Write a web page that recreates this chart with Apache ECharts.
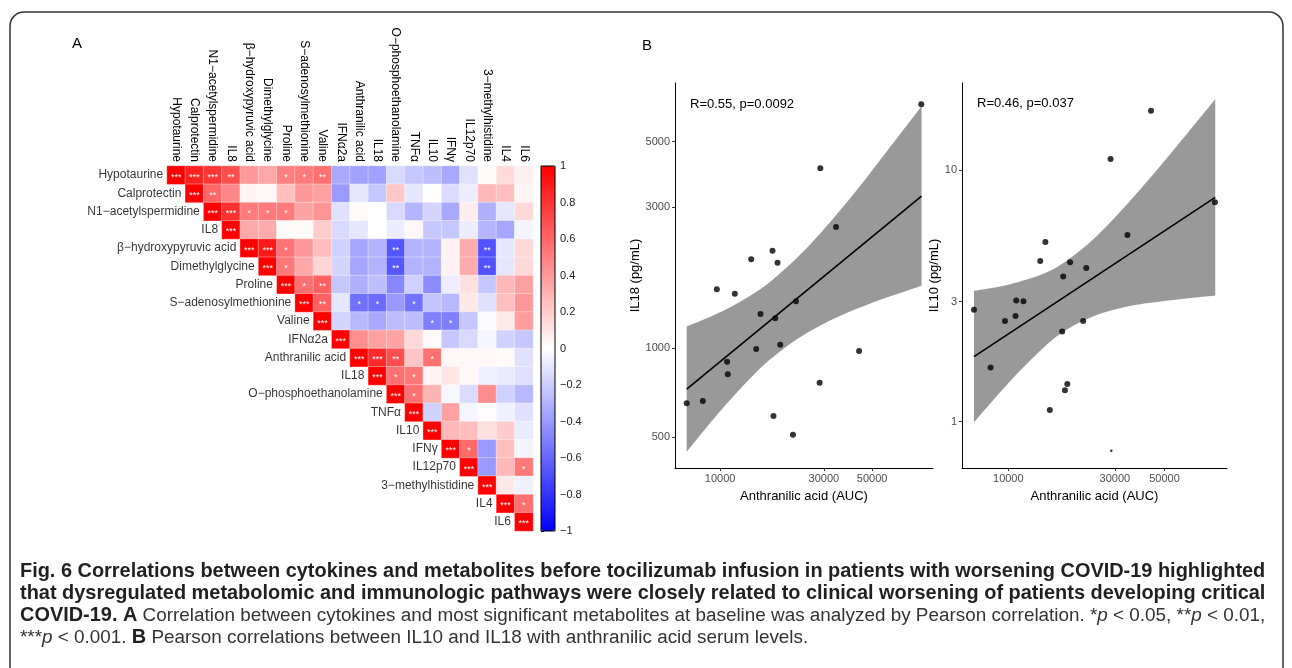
<!DOCTYPE html>
<html><head><meta charset="utf-8">
<script src="https://cdn.jsdelivr.net/npm/echarts@6/dist/echarts.min.js"></script>
<style>html,body{margin:0;padding:0;background:#fff}#c{width:1292px;height:668px}</style>
</head><body><div id="c"></div>
<script>
// ---------------- DATA ----------------
const labels = ['Hypotaurine','Calprotectin','N1−acetylspermidine','IL8','β−hydroxypyruvic acid','Dimethylglycine','Proline','S−adenosylmethionine','Valine','IFNα2a','Anthranilic acid','IL18','O−phosphoethanolamine','TNFα','IL10','IFNγ','IL12p70','3−methylhistidine','IL4','IL6'];

// upper triangle, each row starts at its diagonal cell
const corrRows = [
  [1, 0.87, 0.79, 0.7, 0.4, 0.35, 0.5, 0.52, 0.56, -0.34, -0.37, -0.37, -0.15, -0.22, -0.25, -0.34, -0.12, 0.02, 0.14, 0.06],
  [1, 0.6, 0.47, 0.04, 0.03, 0.25, 0.4, 0.37, -0.4, -0.1, -0.22, 0.22, -0.1, 0, -0.14, -0.07, 0.28, 0.25, 0.04],
  [1, 0.81, 0.52, 0.52, 0.52, 0.36, 0.42, -0.12, 0.02, 0, -0.15, -0.29, -0.17, -0.34, 0.07, -0.31, -0.1, 0.15],
  [1, 0.34, 0.33, 0.02, 0.02, 0.2, -0.15, -0.1, 0, -0.07, 0.03, -0.22, -0.22, -0.07, -0.29, -0.35, -0.04],
  [1, 0.9, 0.55, 0.4, 0.26, -0.18, -0.35, -0.3, -0.66, -0.3, -0.3, 0.05, 0.33, -0.68, -0.1, 0.15],
  [1, 0.53, 0.34, 0.17, -0.17, -0.35, -0.3, -0.66, -0.3, -0.3, 0.05, 0.33, -0.68, -0.1, 0.15],
  [1, 0.56, 0.62, -0.22, -0.31, -0.25, -0.47, -0.18, -0.45, -0.07, 0.12, -0.22, 0.28, 0.37],
  [1, 0.62, -0.1, -0.56, -0.58, -0.4, -0.55, -0.23, -0.28, 0.09, -0.12, 0.25, 0.4],
  [1, -0.17, -0.28, -0.34, -0.26, -0.26, -0.5, -0.5, -0.22, -0.02, 0.09, 0.39],
  [1, 0.44, 0.37, 0.36, 0.15, 0.02, -0.22, -0.15, -0.04, -0.18, -0.22],
  [1, 0.84, 0.69, 0.23, 0.56, 0.03, 0.03, 0.03, 0.02, -0.12],
  [1, 0.56, 0.53, 0.04, 0.1, 0.03, -0.06, -0.08, -0.12],
  [1, 0.56, 0.3, -0.03, -0.14, 0.45, -0.18, -0.28],
  [1, -0.18, 0.37, -0.04, 0.01, -0.06, -0.12],
  [1, 0.28, 0.26, 0.12, 0.2, -0.08],
  [1, 0.58, -0.4, 0.25, -0.04],
  [1, -0.4, 0.28, 0.53],
  [1, 0.09, -0.06],
  [1, 0.56],
  [1]
];

// significant cells [row, col, stars]
const sigCells = [
  [0,0,'***'],[0,1,'***'],[0,2,'***'],[0,3,'**'],[0,6,'*'],[0,7,'*'],[0,8,'**'],
  [1,1,'***'],[1,2,'**'],
  [2,2,'***'],[2,3,'***'],[2,4,'*'],[2,5,'*'],[2,6,'*'],
  [3,3,'***'],
  [4,4,'***'],[4,5,'***'],[4,6,'*'],[4,12,'**'],[4,17,'**'],
  [5,5,'***'],[5,6,'*'],[5,12,'**'],[5,17,'**'],
  [6,6,'***'],[6,7,'*'],[6,8,'**'],
  [7,7,'***'],[7,8,'**'],[7,10,'*'],[7,11,'*'],[7,13,'*'],
  [8,8,'***'],[8,14,'*'],[8,15,'*'],
  [9,9,'***'],
  [10,10,'***'],[10,11,'***'],[10,12,'**'],[10,14,'*'],
  [11,11,'***'],[11,12,'*'],[11,13,'*'],
  [12,12,'***'],[12,13,'*'],
  [13,13,'***'],[14,14,'***'],
  [15,15,'***'],[15,16,'*'],
  [16,16,'***'],[16,19,'*'],
  [17,17,'***'],
  [18,18,'***'],[18,19,'*'],
  [19,19,'***']
];

const colorbarTicks = [1, 0.8, 0.6, 0.4, 0.2, 0, -0.2, -0.4, -0.6, -0.8, -1];

// Panel B
const anthranilic = [7020, 8330, 9660, 10770, 10850, 11690, 13900, 14650, 15340, 17420, 17600, 17930, 18370, 18900, 21630, 22330, 28680, 28900, 34130, 43560, 84140];
const il18 = [652, 663, 1584, 901, 817, 1530, 2000, 995, 1306, 2138, 590, 1263, 1948, 1028, 510, 1442, 765, 4064, 2573, 979, 6690];
const il10 = [2.78, 1.64, 2.51, 2.63, 3.03, 3.01, 4.35, 5.18, 1.11, 2.28, 3.77, 1.33, 1.41, 4.30, 2.51, 4.08, 11.06, 0.765, 5.52, 17.2, 7.44];

const bandX = [7022, 10000, 14240, 17990, 24210, 34480, 49110, 84390];
const il18Lower = [446, 612, 812, 949, 1109, 1273, 1419, 1628];
const il18Upper = [1184, 1323, 1530, 1739, 2128, 2847, 3928, 6585];
const il10Lower = [0.993, 1.42, 1.95, 2.30, 2.63, 2.87, 3.01, 3.17];
const il10Upper = [3.31, 3.50, 3.86, 4.32, 5.34, 7.41, 10.66, 19.15];
const fitX = [7022, 84390];
const il18Fit = [727, 3274];
const il10Fit = [1.81, 7.79];

const xTicks = [10000, 30000, 50000];
const il18Ticks = [500, 1000, 3000, 5000];
const il10Ticks = [1, 3, 10];
const xRange = [6204, 95260];
const il18Range = [393.6, 7898];
const il10Range = [0.653, 22.2];
const stats = ['R=0.55, p=0.0092', 'R=0.46, p=0.037'];

// ---------------- BUILD ----------------
const lg = Math.log10;
const fam = '"Liberation Sans", Arial, Helvetica, sans-serif';
const heatData = [];
corrRows.forEach((row, i) => row.forEach((v, k) => heatData.push([i + k, i, v])));
const sigMap = {};
sigCells.forEach(([r, c, s]) => { sigMap[r + '_' + c] = s; });
const tinyPointIndex = 17;

function tickFmt(ticks) {
  return v => { const t = ticks.find(t => Math.abs(lg(t) - v) < 1e-6); return t === undefined ? '' : String(t); };
}
function xAxisFor(grid) {
  return {
    gridIndex: grid, type: 'value', min: lg(xRange[0]), max: lg(xRange[1]),
    axisLine: {show: true, onZero: false, lineStyle: {color: '#000', width: 1}},
    axisTick: {show: true, length: 3, customValues: xTicks.map(lg), lineStyle: {color: '#333'}},
    axisLabel: {customValues: xTicks.map(lg), formatter: tickFmt(xTicks), color: '#4d4d4d', fontSize: 11, margin: 5, fontFamily: fam},
    splitLine: {show: false},
    name: 'Anthranilic acid (AUC)', nameLocation: 'middle', nameGap: 22,
    nameTextStyle: {fontSize: 13, color: '#000', fontFamily: fam}
  };
}
function yAxisFor(grid, range, ticks, name, gap) {
  return {
    gridIndex: grid, type: 'value', min: lg(range[0]), max: lg(range[1]),
    axisLine: {show: true, onZero: false, lineStyle: {color: '#000', width: 1}},
    axisTick: {show: true, length: 3, customValues: ticks.map(lg), lineStyle: {color: '#333'}},
    axisLabel: {customValues: ticks.map(lg), formatter: tickFmt(ticks), color: '#4d4d4d', fontSize: 11, margin: 5, fontFamily: fam},
    splitLine: {show: false},
    name: name, nameLocation: 'middle', nameGap: gap,
    nameTextStyle: {fontSize: 13, color: '#000', fontFamily: fam}
  };
}
// smooth path through pixel points (Catmull-Rom -> cubic Bezier)
function curveTo(p) {
  let s = '';
  for (let i = 0; i < p.length - 1; i++) {
    const p0 = p[Math.max(0, i - 1)], p1 = p[i], p2 = p[i + 1], p3 = p[Math.min(p.length - 1, i + 2)];
    const c1 = [p1[0] + (p2[0] - p0[0]) / 6, p1[1] + (p2[1] - p0[1]) / 6];
    const c2 = [p2[0] - (p3[0] - p1[0]) / 6, p2[1] - (p3[1] - p1[1]) / 6];
    s += ' C' + c1.join(',') + ' ' + c2.join(',') + ' ' + p2.join(',');
  }
  return s;
}
function bandSeries(axisIdx, lower, upper) {
  return {type: 'custom', xAxisIndex: axisIdx, yAxisIndex: axisIdx, z: 1, silent: true, data: [0],
    renderItem: (params, api) => {
      const up = bandX.map((x, i) => api.coord([lg(x), lg(upper[i])]));
      const lo = bandX.map((x, i) => api.coord([lg(x), lg(lower[i])])).reverse();
      const d = 'M' + up[0].join(',') + curveTo(up) + ' L' + lo[0].join(',') + curveTo(lo) + ' Z';
      return {type: 'path', shape: {pathData: d}, style: {fill: '#999999'}};
    }};
}
function fitSeries(axisIdx, ys) {
  return {type: 'line', xAxisIndex: axisIdx, yAxisIndex: axisIdx, symbol: 'none', z: 3,
    data: fitX.map((x, i) => [lg(x), lg(ys[i])]), lineStyle: {color: '#000', width: 1.6}};
}
function pointSeries(axisIdx, ys, tiny) {
  return {type: 'scatter', xAxisIndex: axisIdx, yAxisIndex: axisIdx, z: 4, symbolSize: 6,
    itemStyle: {color: '#000'},
    data: anthranilic.map((x, i) => (tiny && i === tinyPointIndex) ? {value: [lg(x), lg(ys[i])], symbolSize: 2.5} : [lg(x), lg(ys[i])])};
}

// caption
const capLines = [
  'Fig. 6 Correlations between cytokines and metabolites before tocilizumab infusion in patients with worsening COVID-19 highlighted',
  'that dysregulated metabolomic and immunologic pathways were closely related to clinical worsening of patients developing critical'
];
const cap3Bold = 'COVID-19. A';
const cap3Normal = ' Correlation between cytokines and most significant metabolites at baseline was analyzed by Pearson correlation. *p < 0.05, **p < 0.01,';
const capFam = '"Liberation Sans Narrow", "Liberation Sans", Arial, sans-serif';
const mctx = document.createElement('canvas').getContext('2d');
function mw(text, style) { mctx.font = style + ' 100px ' + capFam; return mctx.measureText(text).width / 100; }
const capW = 1246;
const boldSize = Math.min(20, capW / mw(capLines[0], 'bold'));
const normSize = Math.min(boldSize, (capW - mw(cap3Bold, 'bold') * boldSize) / mw(cap3Normal, 'normal'));
const capRich = {
  b: {fontSize: boldSize, fontWeight: 'bold', fontFamily: capFam, fill: '#231f20'},
  n: {fontSize: normSize, fontFamily: capFam, fill: '#333'},
  i: {fontSize: normSize, fontStyle: 'italic', fontFamily: capFam, fill: '#333'}
};

const chart = echarts.init(document.getElementById('c'), null, {renderer: 'canvas'});
chart.setOption({
  animation: false,
  backgroundColor: '#fff',
  grid: [
    {left: 167, top: 166, width: 366, height: 365},
    {left: 675, top: 83, width: 258, height: 385},
    {left: 962, top: 83, width: 265, height: 385},
    {left: 541, top: 166, width: 14, height: 365, show: true, borderColor: '#000', borderWidth: 1, backgroundColor: 'transparent', z: 10}
  ],
  xAxis: [
    {gridIndex: 0, type: 'category', data: labels, position: 'top',
      axisLine: {show: false}, axisTick: {show: false}, splitLine: {show: false},
      axisLabel: {rotate: 90, interval: 0, margin: 4, fontSize: 12, color: '#000', fontFamily: fam}},
    xAxisFor(1), xAxisFor(2),
    {gridIndex: 3, type: 'value', show: false}
  ],
  yAxis: [
    {gridIndex: 0, type: 'category', data: labels, inverse: true, show: false},
    yAxisFor(1, il18Range, il18Ticks, 'IL18 (pg/mL)', 33),
    yAxisFor(2, il10Range, il10Ticks, 'IL10 (pg/mL)', 21),
    {gridIndex: 3, type: 'value', min: -1, max: 1, position: 'right',
      axisLine: {show: false}, splitLine: {show: false},
      axisTick: {show: true, length: 3, customValues: colorbarTicks, lineStyle: {color: '#000'}},
      axisLabel: {customValues: colorbarTicks, margin: 5, fontSize: 11, color: '#222', fontFamily: fam,
        formatter: v => { const t = colorbarTicks.find(t => Math.abs(t - v) < 1e-9); return t === undefined ? '' : (t < 0 ? '−' + Math.abs(t) : String(t)); }}}
  ],
  visualMap: {
    type: 'continuous', seriesIndex: 0, dimension: 2, min: -1, max: 1,
    inRange: {color: ['#0000FF', '#FFFFFF', '#FF0000']},
    orient: 'vertical', left: 541, top: 166, itemWidth: 14, itemHeight: 365,
    calculable: false, text: null, padding: 0, hoverLink: false
  },
  series: [
    {type: 'heatmap', xAxisIndex: 0, yAxisIndex: 0, data: heatData,
      itemStyle: {borderColor: 'rgba(255,255,255,0.7)', borderWidth: 0.5},
      label: {show: true, color: '#fff', fontSize: 9, fontFamily: fam, offset: [0, 2],
        formatter: p => sigMap[p.data[1] + '_' + p.data[0]] || ''},
      emphasis: {disabled: true}},
    {type: 'scatter', xAxisIndex: 0, yAxisIndex: 0, symbolSize: 18, silent: true,
      itemStyle: {color: 'rgba(0,0,0,0)'},
      data: labels.map((l, i) => [i, i, l]),
      label: {show: true, position: 'left', distance: 4, color: '#000', fontSize: 12, fontFamily: fam,
        formatter: p => p.data[2]}},
    bandSeries(1, il18Lower, il18Upper),
    fitSeries(1, il18Fit),
    pointSeries(1, il18, false),
    bandSeries(2, il10Lower, il10Upper),
    fitSeries(2, il10Fit),
    pointSeries(2, il10, true)
  ],
  graphic: [
    {type: 'rect', z: 100, shape: {x: 10, y: 12, width: 1273, height: 720, r: 14},
      style: {fill: 'none', stroke: '#333', lineWidth: 1.5}, silent: true},
    {type: 'text', z: 100, left: 72, top: 36, style: {text: 'A', fontSize: 15, fill: '#000', fontFamily: fam}},
    {type: 'text', z: 100, left: 642, top: 38, style: {text: 'B', fontSize: 15, fill: '#000', fontFamily: fam}},
    {type: 'text', z: 100, x: 690, y: 104, style: {text: stats[0], fontSize: 13, fill: '#000', fontFamily: fam, verticalAlign: 'middle'}},
    {type: 'text', z: 100, x: 977, y: 103, style: {text: stats[1], fontSize: 13, fill: '#000', fontFamily: fam, verticalAlign: 'middle'}},
    {type: 'text', z: 100, x: 20, y: 572, style: {text: capLines[0], fontSize: boldSize, fontWeight: 'bold', fill: '#231f20', fontFamily: capFam, verticalAlign: 'middle'}},
    {type: 'text', z: 100, x: 20, y: 594, style: {text: capLines[1], fontSize: boldSize, fontWeight: 'bold', fill: '#231f20', fontFamily: capFam, verticalAlign: 'middle'}},
    {type: 'text', z: 100, x: 20, y: 616, style: {
      text: '{b|COVID-19. A}{n| Correlation between cytokines and most significant metabolites at baseline was analyzed by Pearson correlation. *}{i|p}{n| < 0.05, **}{i|p}{n| < 0.01,}',
      verticalAlign: 'middle', rich: capRich}},
    {type: 'text', z: 100, x: 20, y: 638, style: {
      text: '{n|***}{i|p}{n| < 0.001. }{b|B}{n| Pearson correlations between IL10 and IL18 with anthranilic acid serum levels.}',
      verticalAlign: 'middle', rich: capRich}}
  ]
});
</script></body></html>
